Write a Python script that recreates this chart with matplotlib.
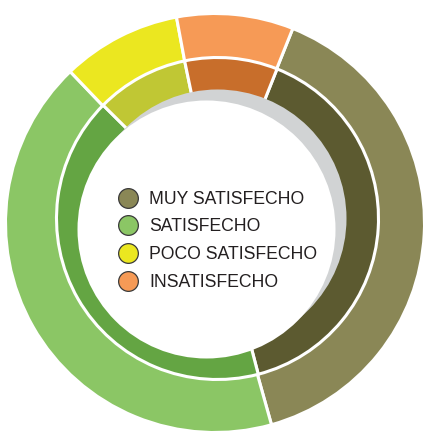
import matplotlib
matplotlib.use("Agg")
import matplotlib.pyplot as plt
from matplotlib.patches import Circle

# ---- data ----
categories = ["MUY SATISFECHO", "SATISFECHO", "POCO SATISFECHO", "INSATISFECHO"]
outer_values = [39.6, 42.2, 9.2, 9.0]
inner_values = [39.9, 41.5, 9.3, 9.3]
outer_colors = ["#8A8756", "#8BC665", "#EBE720", "#F69A56"]
inner_colors = ["#5C5A30", "#64A543", "#C0C734", "#C86E2B"]

W, H = 424, 432
fig = plt.figure(figsize=(W / 100, H / 100), dpi=100)
ax = fig.add_axes([0, 0, 1, 1])

wp = dict(edgecolor="white", linewidth=2.2)
ax.pie(outer_values, colors=outer_colors, radius=209.5, center=(215, 209),
       startangle=68.2, counterclock=False, wedgeprops=wp)
ax.pie(inner_values, colors=inner_colors, radius=161, center=(217.5, 213.5),
       startangle=68.3, counterclock=False, wedgeprops=wp)

# shadowed hole
ax.add_patch(Circle((217.5, 213.5), 129, facecolor="#D1D3D4", edgecolor="none", zorder=5))
ax.add_patch(Circle((206.5, 202.5), 129, facecolor="white", edgecolor="none", zorder=6))

# legend
lx, ltx, ly0, lstep = 128.3, 149, 234.5, 27.7
for i, (lab, col) in enumerate(zip(categories, outer_colors)):
    y = ly0 - i * lstep
    ax.plot([lx], [y], marker="o", ms=14.2, mfc=col, mec="#3A3A3A", mew=0.9,
            ls="none", zorder=8)
    ax.text(ltx, y - 6.2, lab, fontsize=12.7, family="Liberation Sans",
            color="#231F20", va="baseline", ha="left", zorder=8)

ax.set_xlim(0, W)
ax.set_ylim(0, H)
ax.set_aspect("auto")
ax.axis("off")
fig.savefig("out.png", dpi=100)
